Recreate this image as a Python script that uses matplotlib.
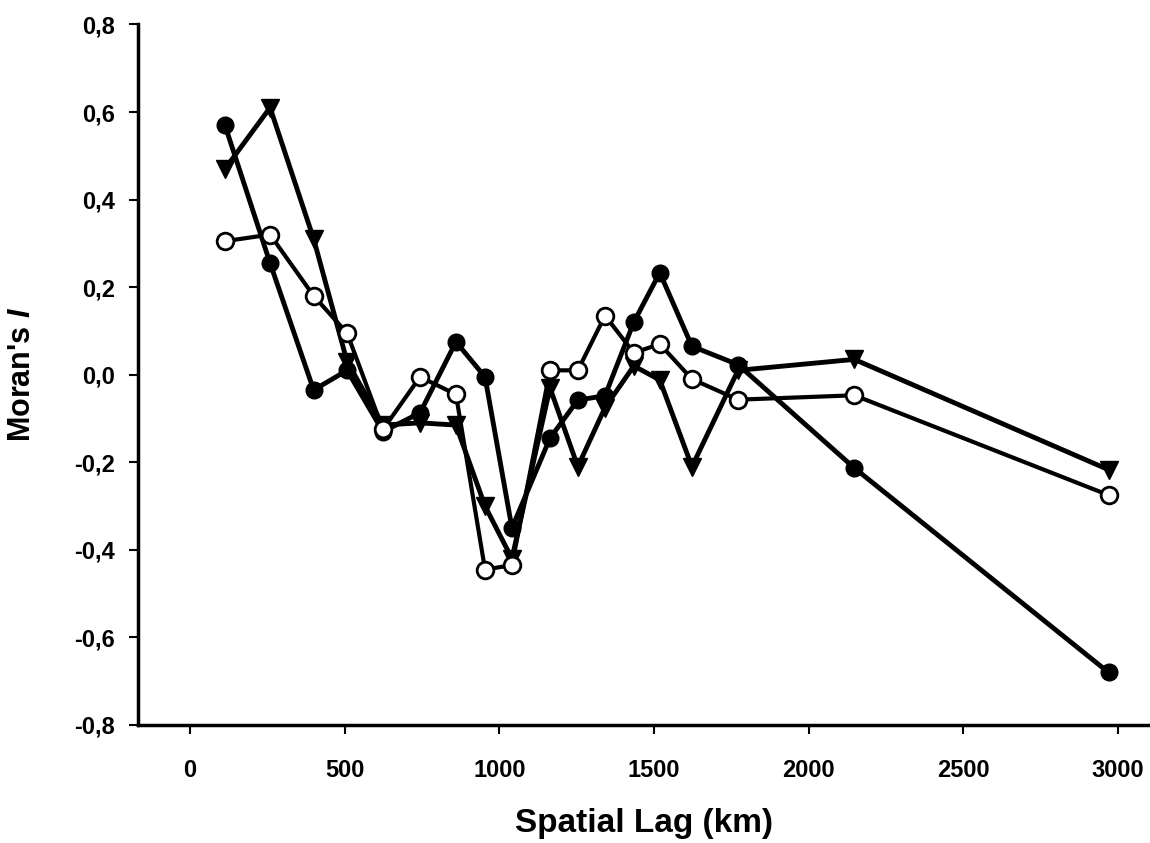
import matplotlib
matplotlib.use("Agg")
import matplotlib.pyplot as plt
from matplotlib.ticker import FuncFormatter

plt.rcParams['font.family'] = ['Liberation Sans', 'DejaVu Sans']
plt.rcParams['font.weight'] = 'bold'
plt.rcParams['mathtext.fontset'] = 'custom'
plt.rcParams['mathtext.it'] = 'Liberation Sans:italic:bold'

# spatial lag classes (km)
lag = [113, 259, 400, 508, 624, 744, 860, 954, 1041, 1164, 1254, 1342,
       1435, 1519, 1623, 1772, 2148, 2970]

# Moran's I per series
filled = [0.57, 0.255, -0.035, 0.01, -0.13, -0.087, 0.075, -0.005, -0.35,
          -0.145, -0.058, -0.048, 0.12, 0.233, 0.065, 0.023, -0.213, -0.68]
tri = [0.47, 0.61, 0.31, 0.03, -0.115, -0.11, -0.115, -0.30, -0.42, -0.03,
       -0.21, -0.075, 0.02, -0.012, -0.21, 0.01, 0.035, -0.217]
empty = [0.305, 0.32, 0.18, 0.095, -0.125, -0.005, -0.045, -0.445, -0.435,
         0.01, 0.01, 0.135, 0.05, 0.07, -0.01, -0.057, -0.047, -0.275]

fig = plt.figure(figsize=(11.5, 8.43), dpi=100)
ax = fig.add_axes([0.12, 0.14, 0.88, 0.831])

ax.plot(lag, tri, color='black', lw=3.5, marker='v', ms=13, zorder=2)
ax.plot(lag, filled, color='black', lw=3.5, marker='o', ms=12, zorder=3)
ax.plot(lag, empty, color='black', lw=3, marker='o', ms=12,
        mfc='white', mec='black', mew=2, zorder=4)

ax.set_xlim(-168, 3104)
ax.set_ylim(-0.8, 0.8)
ax.set_xticks([0, 500, 1000, 1500, 2000, 2500, 3000])
ax.set_yticks([-0.8, -0.6, -0.4, -0.2, 0.0, 0.2, 0.4, 0.6, 0.8])
ax.yaxis.set_major_formatter(FuncFormatter(lambda v, p: f"{v:.1f}".replace('.', ',').replace('-0,0', '0,0')))

for s in ['top', 'right']:
    ax.spines[s].set_visible(False)
for s in ['left', 'bottom']:
    ax.spines[s].set_linewidth(2.5)
ax.tick_params(direction='out', length=6.5, width=1.5, labelsize=17)
ax.tick_params(axis='x', pad=18)
ax.tick_params(axis='y', pad=10)

ax.set_xlabel('Spatial Lag (km)', fontsize=24, fontweight='bold')
ax.xaxis.set_label_coords(0.5, -0.118)
ax.set_ylabel("Moran's $I$", fontsize=22, fontweight='bold')
ax.yaxis.set_label_coords(-0.1, 0.5)

fig.savefig('out.png', dpi=100)
